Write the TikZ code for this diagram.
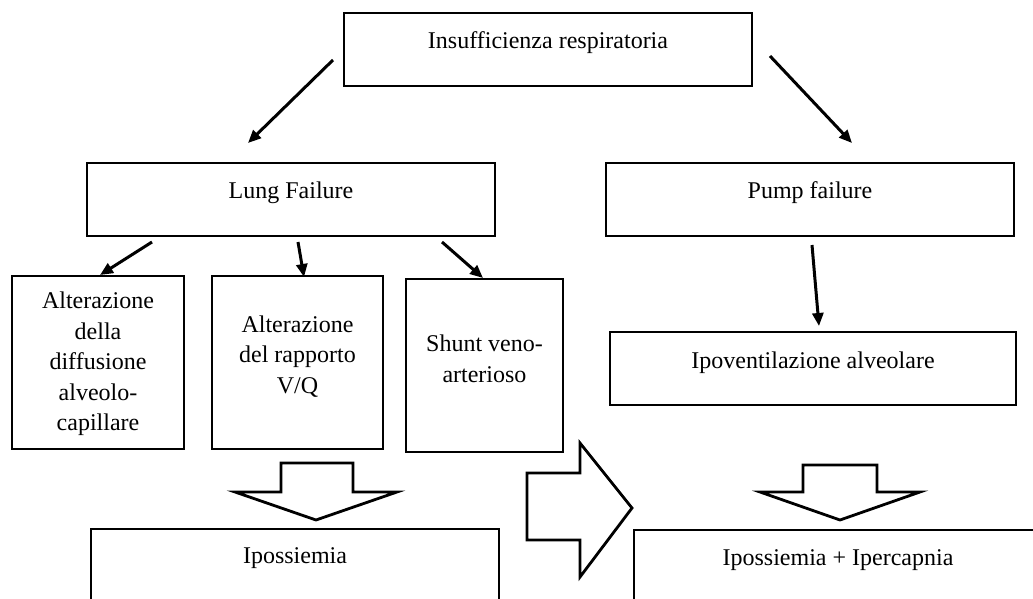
\documentclass[tikz,border=0pt]{standalone}
\usepackage{fontspec}
\setmainfont{Liberation Serif}
\usepackage{tikz}
\usetikzlibrary{arrows.meta}

\begin{document}
\begin{tikzpicture}[x=0.5pt, y=-0.5pt,
		box/.style={draw, line width=1pt, rectangle, inner sep=0pt},
		wide/.style={box, minimum width=204pt, minimum height=36.5pt},
		tall/.style={box, minimum height=86.5pt},
		txt/.style={inner sep=0pt, align=center, font=\fontsize{12}{15.3}\selectfont},
		arr/.style={-{Triangle[length=6.5pt, width=5.5pt]}, line width=1.5pt},
		fat/.style={line width=1.4pt, line join=miter}]
		\clip (0,0) rectangle (1033,599);
		
		% Boxes
		\node[wide] (ins) at (548,49.5) {};
		\node[wide] (lung) at (291,199.5) {};
		\node[wide] (pump) at (810,199.5) {};
		\node[wide, minimum width=203pt] (ipov) at (813,368.5) {};
		\node[tall, minimum width=86pt] (diff) at (98,362.5) {};
		\node[tall, minimum width=85.5pt] (vq) at (297.5,362.5) {};
		\node[tall, minimum width=78.5pt] (shunt) at (484.5,365.5) {};
		\node[wide] (ipo) at (295,565.5) {};
		\node[wide] (ipoiper) at (838,566.5) {};
		
		% Texts
		\node[txt] (ins-t) at (548,43) {Insufficienza respiratoria};
		\node[txt] (lung-t) at (291,193) {Lung Failure};
		\node[txt] (pump-t) at (810,193) {Pump failure};
		\node[txt] (ipov-t) at (813,363) {Ipoventilazione alveolare};
		\node[txt] (diff-t) at (98,364) {Alterazione\\della\\diffusione\\alveolo-\\capillare};
		\node[txt] (vq-t) at (297.5,356.5) {Alterazione\\del rapporto\\V/Q};
		\node[txt] (shunt-t) at (484.5,358.5) {Shunt veno-\\arterioso};
		\node[txt] (ipo-t) at (295,558) {Ipossiemia};
		\node[txt] (ipoiper-t) at (838,560) {Ipossiemia + Ipercapnia};
		
		% Arrow ends
		\coordinate (ins-l) at (333,60);
		\coordinate (ins-r) at (770,56);
		\coordinate (lung-in) at (248,143);
		\coordinate (pump-in) at (852,143);
		\coordinate (lung-a) at (152,242);
		\coordinate (lung-b) at (298,242);
		\coordinate (lung-c) at (442,242);
		\coordinate (diff-in) at (100,275);
		\coordinate (vq-in) at (304,277);
		\coordinate (shunt-in) at (483,278);
		\coordinate (pump-out) at (812,245);
		\coordinate (ipov-in) at (819,326);
		
		% Edges
		\draw[arr] (ins-l) -- (lung-in);
		\draw[arr] (ins-r) -- (pump-in);
		\draw[arr] (lung-a) -- (diff-in);
		\draw[arr] (lung-b) -- (vq-in);
		\draw[arr] (lung-c) -- (shunt-in);
		\draw[arr] (pump-out) -- (ipov-in);
		
		% Block arrows
		\draw[fat] (281,463) -- (353,463) -- (353,492) -- (397,492) -- (316,520) -- (235,492) -- (281,492) -- cycle;
		\draw[fat] (527,473) -- (580,473) -- (580,443) -- (632,508) -- (580,577) -- (580,540) -- (527,540) -- cycle;
		\draw[fat] (803,465) -- (877,465) -- (877,492) -- (920,492) -- (840,520) -- (760,492) -- (803,492) -- cycle;
	\end{tikzpicture}
\end{document}
